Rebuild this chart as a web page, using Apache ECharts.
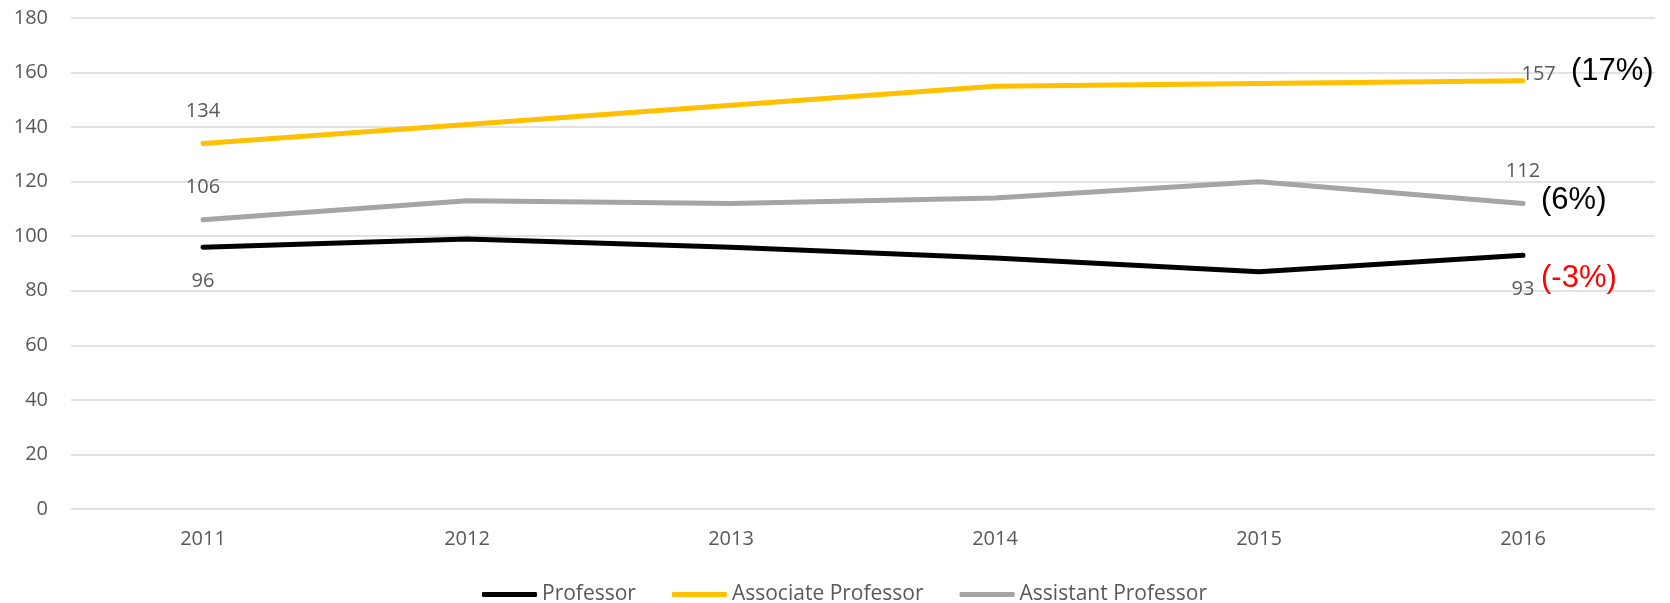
<!DOCTYPE html>
<html>
<head>
<meta charset="utf-8">
<script src="https://cdn.jsdelivr.net/npm/echarts@6/dist/echarts.min.js"></script>
<style>
  html, body { margin: 0; padding: 0; background: #fff; }
  #chart { width: 1670px; height: 603px; }
</style>
</head>
<body>
<div id="chart"></div>
<script>
const years = ['2011', '2012', '2013', '2014', '2015', '2016'];
const professor = [96, 99, 96, 92, 87, 93];
const associate = [134, 141, 148, 155, 156, 157];
const assistant = [106, 113, 112, 114, 120, 112];
const seriesNames = ['Professor', 'Associate Professor', 'Assistant Professor'];
const changeNotes = ['(-3%)', '(17%)', '(6%)'];

const textColor = '#595959';
const font = 'Open Sans';

const chart = echarts.init(document.getElementById('chart'));

// label placement for first / last point of each line
function pointLabels(values, first, last) {
  return values.map((v, i) => {
    if (i === 0) return { value: v, label: Object.assign({ show: true }, first) };
    if (i === values.length - 1) return { value: v, label: Object.assign({ show: true }, last) };
    return v;
  });
}

function makeSeries(name, values, color, first, last, note) {
  return {
    name: name,
    type: 'line',
    symbol: 'circle',
    symbolSize: 1,
    itemStyle: { color: color },
    lineStyle: { color: color, width: 5, cap: 'round', join: 'round' },
    label: { show: false, color: textColor, fontSize: 20, fontFamily: font },
    emphasis: { disabled: true },
    data: pointLabels(values, first, last),
    markPoint: {
      symbol: 'circle',
      symbolSize: 0,
      silent: true,
      data: [{
        coord: [years[years.length - 1], values[values.length - 1]],
        label: Object.assign({
          show: true,
          formatter: note.text,
          fontSize: 31,
          fontFamily: 'Liberation Sans',
          color: note.color,
          position: 'right'
        }, note.place)
      }]
    }
  };
}

const option = {
  backgroundColor: '#ffffff',
  animation: false,
  grid: { left: 71, right: 15, top: 18, bottom: 94 },
  legend: {
    left: 477,
    top: 579,
    icon: 'roundRect',
    itemWidth: 55,
    itemHeight: 5,
    itemGap: 36,
    textStyle: { color: textColor, fontSize: 21, fontFamily: font },
    data: seriesNames
  },
  xAxis: {
    type: 'category',
    boundaryGap: true,
    data: years,
    axisLine: { show: false },
    axisTick: { show: false },
    axisLabel: { color: textColor, fontSize: 20, fontFamily: font, margin: 20 }
  },
  yAxis: {
    type: 'value',
    min: 0,
    max: 180,
    interval: 20,
    axisLine: { show: false },
    axisTick: { show: false },
    axisLabel: { color: textColor, fontSize: 20, fontFamily: font, margin: 23 },
    splitLine: { lineStyle: { color: '#d9d9d9', width: 1.5 } }
  },
  series: [
    makeSeries(seriesNames[0], professor, '#000000',
      { position: 'bottom', distance: 24 },
      { position: 'bottom', distance: 23 },
      { text: changeNotes[0], color: '#ff0000', place: { distance: 18, offset: [0, 23] } }),
    makeSeries(seriesNames[1], associate, '#ffc000',
      { position: 'top', distance: 22 },
      { position: 'right', distance: 0, offset: [-2, -6] },
      { text: changeNotes[1], color: '#000000', place: { distance: 48, offset: [0, -9] } }),
    makeSeries(seriesNames[2], assistant, '#a5a5a5',
      { position: 'top', distance: 22 },
      { position: 'top', distance: 22 },
      { text: changeNotes[2], color: '#000000', place: { distance: 18, offset: [0, -3] } })
  ]
};

chart.setOption(option);
</script>
</body>
</html>
